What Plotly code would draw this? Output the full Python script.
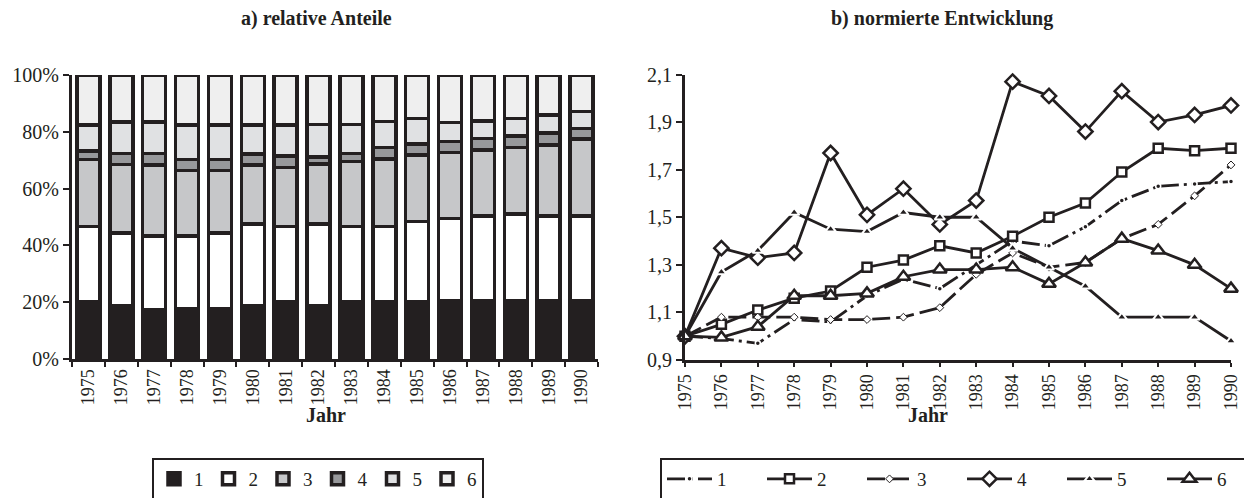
import plotly.graph_objects as go

years = [str(y) for y in range(1975, 1991)]
years_num = list(range(1975, 1991))

# a) relative shares in percent (segments 1..6)
share1 = [20.2, 18.7, 17.3, 17.8, 17.8, 18.7, 20.2, 18.7, 20.2, 20.2, 20.2, 20.4, 20.5, 20.5, 20.5, 20.5]
share2 = [26.4, 25.6, 26.0, 25.5, 26.5, 28.8, 26.4, 28.8, 26.4, 26.4, 28.2, 29.1, 29.9, 30.6, 29.9, 29.9]
share3 = [23.7, 24.1, 25.0, 23.0, 22.0, 20.8, 20.9, 21.2, 22.9, 23.8, 23.4, 23.2, 23.2, 23.4, 25.0, 27.0]
share4 = [3.0, 3.9, 4.1, 4.0, 4.0, 3.9, 3.9, 2.5, 2.9, 4.1, 3.9, 3.8, 4.1, 4.0, 4.1, 3.8]
share5 = [9.1, 11.1, 11.1, 12.1, 12.1, 10.2, 11.0, 11.4, 10.2, 9.1, 9.0, 6.7, 6.1, 6.2, 6.4, 5.9]
share6 = [17.6, 16.6, 16.5, 17.6, 17.6, 17.6, 17.6, 17.4, 17.4, 16.4, 15.3, 16.8, 16.2, 15.3, 14.1, 12.9]

# b) normalised development (1975 = 1)
norm1 = [1.0, 0.99, 0.97, 1.07, 1.06, 1.17, 1.24, 1.20, 1.30, 1.40, 1.38, 1.46, 1.57, 1.63, 1.64, 1.65]
norm2 = [1.0, 1.05, 1.11, 1.16, 1.19, 1.29, 1.32, 1.38, 1.35, 1.42, 1.50, 1.56, 1.69, 1.79, 1.78, 1.79]
norm3 = [1.0, 1.08, 1.08, 1.08, 1.07, 1.07, 1.08, 1.12, 1.26, 1.35, 1.29, 1.31, 1.41, 1.47, 1.59, 1.72]
norm4 = [1.0, 1.37, 1.33, 1.35, 1.77, 1.51, 1.62, 1.47, 1.57, 2.07, 2.01, 1.86, 2.03, 1.90, 1.93, 1.97]
norm5 = [1.0, 1.27, 1.36, 1.52, 1.45, 1.44, 1.52, 1.50, 1.50, 1.37, 1.29, 1.21, 1.08, 1.08, 1.08, 0.98]
norm6 = [1.0, 0.995, 1.04, 1.17, 1.17, 1.18, 1.25, 1.28, 1.28, 1.29, 1.22, 1.31, 1.41, 1.36, 1.30, 1.20]

series_names = ["1", "2", "3", "4", "5", "6"]
y_ticks_left = [0, 20, 40, 60, 80, 100]
y_ticktext_left = ["0%", "20%", "40%", "60%", "80%", "100%"]
y_ticks_right = [0.9, 1.1, 1.3, 1.5, 1.7, 1.9, 2.1]

INK = "#231f20"
FONT = "Liberation Serif, Times New Roman, serif"
W, H = 1244, 498

def px_x(p):
    return p / W

def px_y(p):
    return 1 - p / H

fig = go.Figure()

bar_fills = ["#231f20", "#ffffff", "#c6c7c9", "#97989b", "#e0e1e3", "#efefef"]
for name, vals, fill in zip(series_names, [share1, share2, share3, share4, share5, share6], bar_fills):
    fig.add_trace(go.Bar(
        x=years, y=vals, name=name, xaxis="x", yaxis="y",
        marker=dict(color=fill, line=dict(color=INK, width=3.5)),
        legend="legend",
    ))

line_specs = [
    (norm1, dict(dash="18px,5px,3px,5px"), dict(symbol="circle", size=5, color=INK, line=dict(color="white", width=1.5))),
    (norm2, dict(dash="solid"), dict(symbol="square", size=9, color="white", line=dict(color=INK, width=2.5))),
    (norm3, dict(dash="18px,6px"), dict(symbol="diamond", size=6, color="white", line=dict(color=INK, width=1))),
    (norm4, dict(dash="solid"), dict(symbol="diamond", size=11, color="white", line=dict(color=INK, width=2.5))),
    (norm5, dict(dash="solid"), dict(symbol="triangle-up", size=9, color=INK, line=dict(color="white", width=2))),
    (norm6, dict(dash="solid"), dict(symbol="triangle-up", size=12, color="white", line=dict(color=INK, width=2.5))),
]
for name, (vals, ln, mk) in zip(series_names, line_specs):
    fig.add_trace(go.Scatter(
        x=years_num, y=vals, name=name, xaxis="x2", yaxis="y2",
        mode="lines+markers", line=dict(color=INK, width=2.8, **ln),
        marker=mk, cliponaxis=False, legend="legend2",
    ))

xtick_font = dict(family=FONT, size=18, color=INK)
ytick_font = dict(family=FONT, size=20, color=INK)

def label(text, x, y, size):
    return dict(text=text, x=px_x(x), y=px_y(y), xref="paper", yref="paper",
                xanchor="center", yanchor="middle", showarrow=False,
                font=dict(family=FONT, size=size, color=INK))

fig.update_layout(
    width=W, height=H,
    margin=dict(l=0, r=0, t=0, b=0, autoexpand=False),
    paper_bgcolor="white", plot_bgcolor="white",
    separators=",.",
    barmode="stack", bargap=0.3,
    font=dict(family=FONT, color=INK, size=18),
    xaxis=dict(
        domain=[px_x(72), px_x(598)], anchor="y", type="category", automargin=False,
        tickson="boundaries", ticks="outside", ticklen=5, tickwidth=2, tickcolor=INK,
        showline=True, linecolor=INK, linewidth=3, showgrid=False,
        tickangle=-90, tickfont=xtick_font,
    ),
    yaxis=dict(
        domain=[px_y(359), px_y(75)], anchor="x", range=[0, 100], automargin=False,
        tickvals=y_ticks_left, ticktext=y_ticktext_left, ticks="outside", ticklen=6, tickwidth=2,
        tickcolor=INK, showline=True, linecolor=INK, linewidth=3, showgrid=False,
        zeroline=False, tickfont=ytick_font,
    ),
    xaxis2=dict(
        domain=[px_x(685), px_x(1231)], anchor="y2", range=[1975, 1990], automargin=False,
        tickvals=years_num, ticktext=years, ticks="outside", ticklen=4, tickwidth=2,
        tickcolor=INK, showline=True, linecolor=INK, linewidth=3, showgrid=False,
        zeroline=False, tickangle=-90, tickfont=xtick_font,
    ),
    yaxis2=dict(
        domain=[px_y(360), px_y(74.5)], anchor="x2", range=[0.9, 2.1], automargin=False,
        tickvals=y_ticks_right, tickformat=".1f", ticks="outside", ticklen=6, tickwidth=2,
        tickcolor=INK, showline=True, linecolor=INK, linewidth=3, showgrid=False,
        zeroline=False, tickfont=ytick_font,
    ),
    legend=dict(
        orientation="h", x=px_x(318), y=px_y(458), xanchor="center", yanchor="top",
        bordercolor=INK, borderwidth=2, font=dict(family=FONT, size=19, color=INK),
        itemwidth=30, traceorder="normal",
    ),
    legend2=dict(
        orientation="h", x=px_x(962), y=px_y(458), xanchor="center", yanchor="top",
        bordercolor=INK, borderwidth=2, font=dict(family=FONT, size=19, color=INK),
        itemwidth=45, entrywidth=40, entrywidthmode="pixels", traceorder="normal",
    ),
    annotations=[
        label("<b>a) relative Anteile</b>", 316, 18, 20),
        label("<b>b) normierte Entwicklung</b>", 942, 18, 20),
        label("<b>Jahr</b>", 326, 415, 20),
        label("<b>Jahr</b>", 928, 415, 20),
    ],
)

fig.write_html("out.html")
